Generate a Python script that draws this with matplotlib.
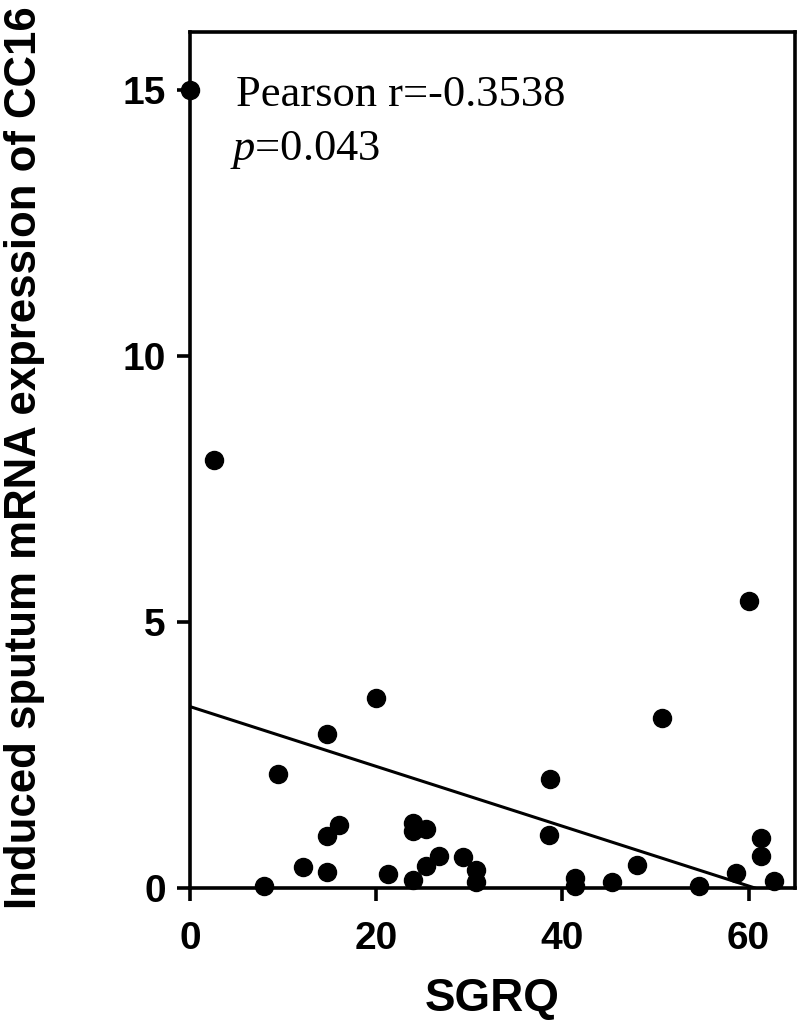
import numpy as np
import matplotlib
matplotlib.use("Agg")
import matplotlib.pyplot as plt

plt.rcParams['font.family'] = ['Liberation Sans', 'DejaVu Sans']
plt.rcParams['mathtext.fontset'] = 'custom'
plt.rcParams['mathtext.rm'] = 'Liberation Serif'
plt.rcParams['mathtext.it'] = 'Liberation Serif:italic'

# data
sgrq = [0, 2.6, 8.0, 9.4, 12.1, 14.7, 14.7, 14.7, 16.0, 20.0, 21.3,
        23.9, 23.9, 23.9, 25.3, 25.3, 26.7, 29.3, 30.7, 30.7, 38.6, 38.7,
        41.3, 41.3, 45.3, 48.0, 50.7, 54.7, 58.6, 60.0, 61.3, 61.3, 62.7]
cc16 = [15.0, 8.04, 0.03, 2.15, 0.39, 0.31, 0.98, 2.90, 1.19, 3.57, 0.26,
        0.16, 1.08, 1.23, 0.42, 1.11, 0.60, 0.58, 0.11, 0.34, 1.00, 2.04,
        0.03, 0.19, 0.11, 0.43, 3.20, 0.03, 0.29, 5.39, 0.60, 0.94, 0.14]

# regression line
intercept = 3.41
slope = -0.0562

x_ticks = [0, 20, 40, 60]
y_ticks = [0, 5, 10, 15]

fig = plt.figure(figsize=(8, 10.22), dpi=100)
ax = fig.add_axes([0.2375, 0.1311, 0.7565, 0.8376])

ax.plot(sgrq, cc16, 'o', color='black', ms=13, clip_on=False, zorder=3)

fit_x = np.array([0, max(sgrq)])
ax.plot(fit_x, intercept + slope * fit_x, color='black', lw=2.2)

ax.set_xlim(0, 65)
ax.set_ylim(0, 16.09)
ax.set_xticks(x_ticks)
ax.set_yticks(y_ticks)

for s in ax.spines.values():
    s.set_linewidth(2.6)

ax.tick_params(direction='out', length=9.5, width=2.6, labelsize=28)
ax.tick_params(axis='x', pad=14)
ax.tick_params(axis='y', pad=8)
for lab in ax.get_xticklabels() + ax.get_yticklabels():
    lab.set_fontweight('bold')

ax.set_xlabel('SGRQ', fontsize=33, fontweight='bold', labelpad=15)
fig.text(25 / 800, 1 - 458 / 1022, 'Induced sputum mRNA expression of CC16',
         rotation=90, ha='center', va='center', fontsize=31.5, fontweight='bold')

ax.text(0.076, 0.9136, 'Pearson r=-0.3538', transform=ax.transAxes,
        family='Liberation Serif', fontsize=32, va='baseline')
ax.text(0.066, 0.850, r'$p$=0.043', transform=ax.transAxes,
        family='Liberation Serif', fontsize=32, va='baseline')

fig.savefig('out.png', dpi=100)
